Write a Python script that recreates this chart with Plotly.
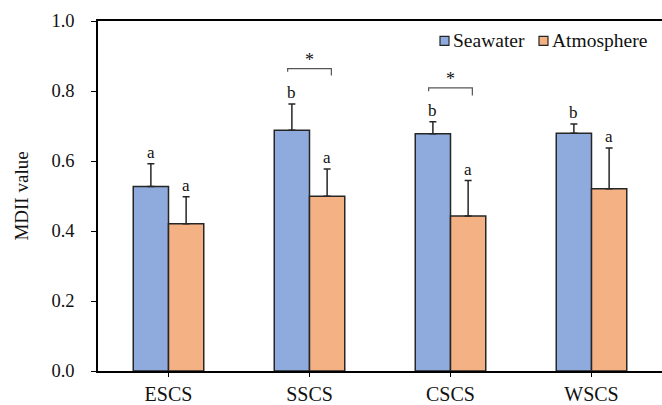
import plotly.graph_objects as go

categories = ["ESCS", "SSCS", "CSCS", "WSCS"]
seawater = [0.527, 0.688, 0.678, 0.679]
seawater_err = [0.065, 0.075, 0.034, 0.027]
atmosphere = [0.421, 0.499, 0.443, 0.521]
atmosphere_err = [0.077, 0.078, 0.101, 0.116]
seawater_letters = ["a", "b", "b", "b"]
atmosphere_letters = ["a", "a", "a", "a"]
series_names = ["Seawater", "Atmosphere"]
# significance brackets: category index, bar level, left leg end, right leg end
sig_cats = [1, 2]
sig_level = [0.864, 0.809]
sig_left = [0.855, 0.799]
sig_right = [0.844, 0.787]

FONT = "Liberation Serif"
SEA = "#8FAADC"
ATM = "#F4B183"
EDGE = "#262626"
BARGAP = 0.5
half = (1 - BARGAP) / 2  # width of one bar in category units

W, H = 662, 405
ML, MR, MT, MB = 98, 0, 21, 31
PW, PH = W - ML - MR, H - MT - MB


def px_x(p):
    return (p - ML) / PW


def px_y(p):
    return 1 - (p - MT) / PH


fig = go.Figure()
for name, vals, errs, col in [(series_names[0], seawater, seawater_err, SEA),
                              (series_names[1], atmosphere, atmosphere_err, ATM)]:
    fig.add_trace(go.Bar(
        x=categories, y=vals, name=name, showlegend=False,
        marker=dict(color=col, line=dict(color=EDGE, width=1.5)),
        error_y=dict(type="data", array=errs, arrayminus=[0] * len(errs), symmetric=False,
                     color=EDGE, thickness=1.5, width=3.5),
    ))

# letters
for i in range(len(categories)):
    fig.add_annotation(x=i - half / 2, y=seawater[i] + seawater_err[i], text=seawater_letters[i],
                       showarrow=False, yanchor="bottom", yshift=0, font=dict(family=FONT, size=17, color="#111"))
    fig.add_annotation(x=i + half / 2, y=atmosphere[i] + atmosphere_err[i], text=atmosphere_letters[i],
                       showarrow=False, yanchor="bottom", yshift=0, font=dict(family=FONT, size=17, color="#111"))

# significance brackets
for c, lv, le, re in zip(sig_cats, sig_level, sig_left, sig_right):
    x0 = c - half * 0.62
    x1 = c + half * 0.62
    fig.add_shape(type="path", xref="x", yref="y",
                  path=f"M {x0} {le} L {x0} {lv} L {x1} {lv} L {x1} {re}",
                  line=dict(color="#555", width=1.2))
    fig.add_annotation(x=c, y=lv, text="*", showarrow=False, yanchor="bottom", yshift=-3,
                       font=dict(family=FONT, size=18, color="#111"))

# legend (drawn manually to match compact symbol/text spacing)
legend_items = [(series_names[0], SEA, 440), (series_names[1], ATM, 539)]
for name, col, sx in legend_items:
    fig.add_shape(type="rect", xref="paper", yref="paper",
                  x0=px_x(sx), x1=px_x(sx + 9), y0=px_y(45.5), y1=px_y(36.5),
                  fillcolor=col, line=dict(color=EDGE, width=1.2))
    fig.add_annotation(xref="paper", yref="paper", x=px_x(sx + 11), y=px_y(41),
                       text=name, showarrow=False, xanchor="left", yanchor="middle",
                       font=dict(family=FONT, size=19.5, color="#111"))

fig.update_layout(
    width=W, height=H,
    margin=dict(l=ML, r=MR, t=MT, b=MB),
    paper_bgcolor="white", plot_bgcolor="white",
    barmode="group", bargap=BARGAP, bargroupgap=0,
    font=dict(family=FONT, size=16, color="#111"),
    showlegend=False,
    xaxis=dict(showline=True, linecolor="black", linewidth=1.5, mirror=True,
               ticks="outside", ticklen=4, tickcolor="black", tickwidth=1,
               tickfont=dict(family=FONT, size=20, color="#111"), showgrid=False),
    yaxis=dict(range=[0, 1.0], dtick=0.2, tickformat=".1f", showline=True, linecolor="black",
               linewidth=1.5, ticks="outside", ticklen=5, tickcolor="black",
               ticklabelstandoff=13,
               tickfont=dict(family=FONT, size=18.5, color="#111"), showgrid=False, zeroline=False,
               title=dict(text="MDII value", font=dict(family=FONT, size=19, color="#111"), standoff=18)),
)

fig.write_html("out.html", config={"displayModeBar": False},
               post_script="document.body.style.margin='0';")
